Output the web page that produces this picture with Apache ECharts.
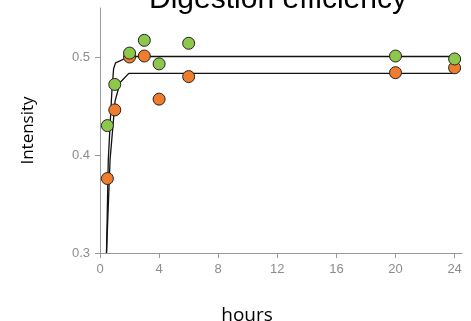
<!DOCTYPE html>
<html>
<head>
<meta charset="utf-8">
<script src="https://cdn.jsdelivr.net/npm/echarts@6/dist/echarts.min.js"></script>
<style>
  html, body { margin: 0; padding: 0; background: #fff; }
  #chart { width: 471px; height: 321px; }
</style>
</head>
<body>
<div id="chart"></div>
<script>
// measured points
const hours = [0.5, 1, 2, 3, 4, 6, 20, 24];
const greenVals = [0.430, 0.472, 0.504, 0.517, 0.493, 0.514, 0.501, 0.498];
const orangeVals = [0.376, 0.446, 0.500, 0.501, 0.457, 0.480, 0.484, 0.489];

// fitted curves
const greenFitHours = [0.44, 0.56, 0.8, 0.92, 1.05, 2, 24];
const greenFitVals = [0.30, 0.395, 0.464, 0.488, 0.494, 0.5005, 0.5005];
const orangeFitHours = [0.44, 0.68, 1.02, 1.36, 1.95, 24];
const orangeFitVals = [0.30, 0.395, 0.455, 0.474, 0.4833, 0.4833];

const xTicks = [0, 4, 8, 12, 16, 20, 24];
const yTicks = [0.3, 0.4, 0.5];

function pairs(xs, ys) {
  return xs.map((x, i) => [x, ys[i]]);
}

let myChart = echarts.init(document.getElementById('chart'));
myChart.setOption({
  animation: false,
  title: {
    text: 'Digestion efficiency',
    left: 273,
    textAlign: 'center',
    top: -20,
    textStyle: { fontFamily: 'Liberation Sans', fontSize: 30, fontWeight: 'normal', color: '#000' }
  },
  grid: { left: 100, right: 9, top: 8, bottom: 68, outerBoundsMode: 'none', containLabel: false },
  xAxis: {
    type: 'value',
    min: 0,
    max: 24.5,
    name: 'hours',
    nameLocation: 'middle',
    nameGap: 53,
    nameTextStyle: { fontFamily: 'Open Sans', fontSize: 19, color: '#000', padding: [0, 68, 0, 0] },
    splitLine: { show: false },
    axisLine: { lineStyle: { color: '#999' } },
    axisTick: { customValues: xTicks, length: 5, lineStyle: { color: '#999' } },
    axisLabel: { customValues: xTicks, fontFamily: 'Liberation Sans', fontSize: 13, color: '#8c8c8c', margin: 10 }
  },
  yAxis: {
    type: 'value',
    min: 0.3,
    max: 0.55,
    name: 'Intensity',
    nameLocation: 'middle',
    nameGap: 63,
    nameTextStyle: { fontFamily: 'Open Sans', fontSize: 17, color: '#000' },
    splitLine: { show: false },
    axisLine: { show: true, lineStyle: { color: '#999' } },
    axisTick: { show: true, customValues: yTicks, length: 5, lineStyle: { color: '#999' } },
    axisLabel: {
      customValues: yTicks, fontFamily: 'Liberation Sans', fontSize: 13, color: '#8c8c8c', margin: 10,
      formatter: v => v.toFixed(1)
    }
  },
  series: [
    {
      type: 'line',
      data: pairs(greenFitHours, greenFitVals),
      showSymbol: false,
      clip: true,
      lineStyle: { color: '#111', width: 1.3 },
      z: 1
    },
    {
      type: 'line',
      data: pairs(orangeFitHours, orangeFitVals),
      showSymbol: false,
      clip: true,
      lineStyle: { color: '#111', width: 1.3 },
      z: 1
    },
    {
      type: 'scatter',
      data: pairs(hours, orangeVals),
      symbolSize: 12,
      itemStyle: { color: '#ef7d2d', borderColor: '#222', borderWidth: 1, opacity: 1 },
      z: 3
    },
    {
      type: 'scatter',
      data: pairs(hours, greenVals),
      symbolSize: 12,
      itemStyle: { color: '#8dc84c', borderColor: '#222', borderWidth: 1, opacity: 1 },
      z: 4
    }
  ]
});
</script>
</body>
</html>
